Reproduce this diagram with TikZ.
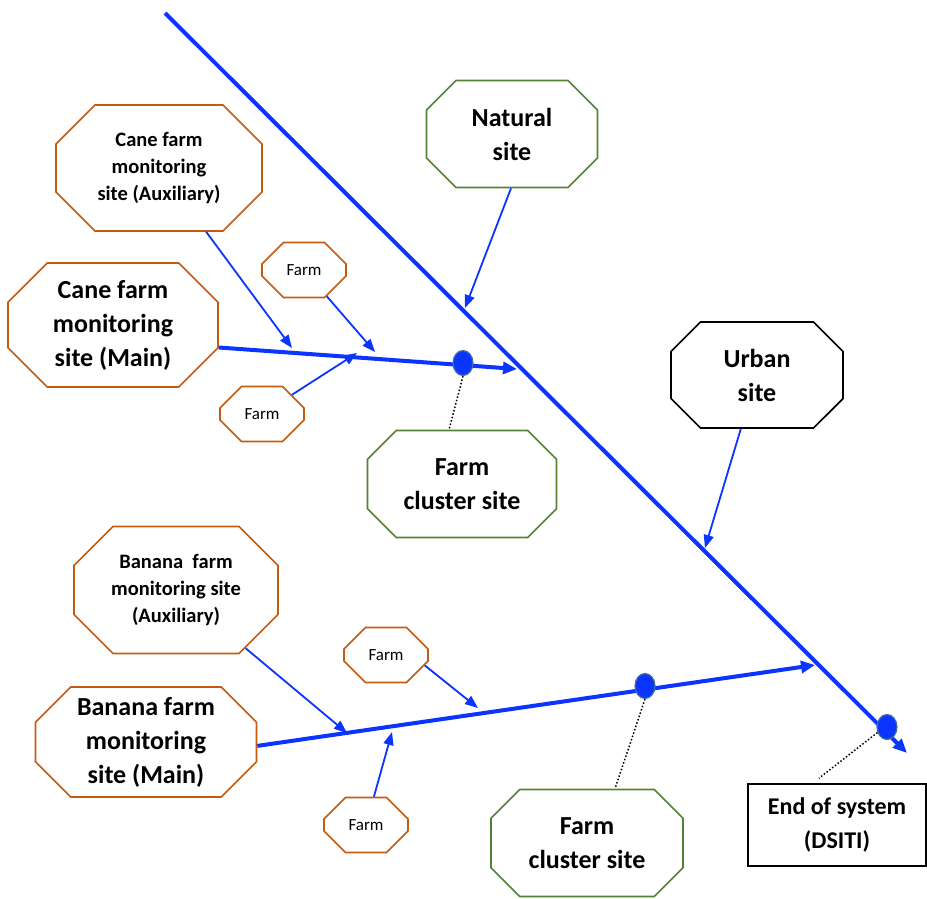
\documentclass[tikz,border=0pt]{standalone}
\usepackage{fontspec}
\setmainfont{Carlito}
\usepackage{xcolor}
\usetikzlibrary{shapes.misc,shapes.geometric,arrows.meta}

\definecolor{flowblue}{RGB}{12,52,255}
\definecolor{caneorange}{RGB}{197,90,17}
\definecolor{sitegreen}{RGB}{84,130,53}
\definecolor{dotedge}{RGB}{65,113,156}

\begin{document}
\begin{tikzpicture}[x=1pt,y=-1pt,
  octa/.style={chamfered rectangle, chamfered rectangle xsep=#1, draw, line width=1.6pt,
    align=center, inner sep=0pt},
  bigsite/.style={octa=36pt, font=\bfseries\fontsize{26}{34}\selectfont},
  auxsite/.style={octa=36pt, draw=caneorange, font=\bfseries\fontsize{20.5}{27}\selectfont},
  farmsite/.style={octa=16pt, chamfered rectangle ysep=16pt, draw=caneorange,
    minimum width=84pt, minimum height=55pt, font=\fontsize{17}{20}\selectfont},
  flow/.style={flowblue, line width=4pt, -{Triangle[length=14pt,width=12pt]}},
  feed/.style={flowblue, line width=1.8pt, -{Triangle[length=13pt,width=10pt]}},
  joint/.style={ellipse, fill=flowblue, draw=dotedge, line width=1.2pt,
    minimum width=20pt, minimum height=25pt, inner sep=0pt},
  lead/.style={black, line width=1.5pt, dotted}]
\useasboundingbox (0,0) rectangle (927,898);

\node[bigsite, draw=caneorange, minimum width=210pt, minimum height=124pt] (canemain) at (113,325) {Cane farm\\monitoring\\site (Main)};
\node[auxsite, minimum width=206pt, minimum height=126pt] (caneaux) at (159,168) {Cane farm\\monitoring\\site (Auxiliary)};
\node[farmsite] (farmA) at (304,270) {Farm};
\node[farmsite] (farmB) at (262,414) {Farm};
\node[bigsite, draw=sitegreen, octa=31pt, minimum width=189pt, minimum height=107pt] (clusterA) at (462,484) {Farm\\cluster site};
\node[bigsite, draw=sitegreen, octa=31pt, minimum width=171pt, minimum height=107pt] (natural) at (512,134) {Natural\\site};
\node[bigsite, draw=black, octa=31pt, minimum width=172pt, minimum height=106pt] (urban) at (757,375) {Urban\\site};
\node[auxsite, minimum width=204pt, minimum height=127pt] (bananaaux) at (176,590) {Banana\ \ farm\\monitoring site\\(Auxiliary)};
\node[bigsite, draw=caneorange, octa=32pt, minimum width=221pt, minimum height=110pt] (bananamain) at (146,742) {Banana farm\\monitoring\\site (Main)};
\node[farmsite] (farmC) at (386,655) {Farm};
\node[farmsite] (farmD) at (366,825) {Farm};
\node[bigsite, draw=sitegreen, octa=31pt, minimum width=192pt, minimum height=107pt] (clusterB) at (587,843) {Farm\\cluster site};
\node[draw, line width=1.6pt, minimum width=178pt, minimum height=82pt, align=center,
  font=\bfseries\fontsize{24}{34}\selectfont] (endsys) at (837,825) {End of system\\(DSITI)};

\coordinate (source) at (165,13);
\coordinate (outlet) at (907,753);
\coordinate (joinA) at (517,369);
\coordinate (joinB) at (815,665);

% main stream and the two branches
\draw[flow] (source) -- (outlet);
\draw[flow] (canemain.-12) -- (joinA);
\draw[flow] (bananamain.-2) -- (joinB);

\node[joint] (dotA) at (463,363) {};
\node[joint] (dotB) at (645,686) {};
\node[joint] (dotEnd) at (887,727) {};

% inflows
\draw[feed] (caneaux) -- (292,348);
\draw[feed] (farmA) -- (375,352);
\draw[feed] (farmB) -- (357,353);
\draw[feed] ([xshift=-1pt]natural.south) -- (465,308);
\draw[feed] (urban) -- (705,548);
\draw[feed] (bananaaux) -- (347,733);
\draw[feed] (farmC.-15) -- (478,708);
\draw[feed] (farmD) -- (392,732);

\draw[lead] (dotA.south) -- ([xshift=-13pt]clusterA.north);
\draw[lead] (dotB.south) -- ([xshift=28pt]clusterB.north);
\draw[lead] (dotEnd.-150) -- ([xshift=-18pt,yshift=5pt]endsys.north);
\end{tikzpicture}
\end{document}
